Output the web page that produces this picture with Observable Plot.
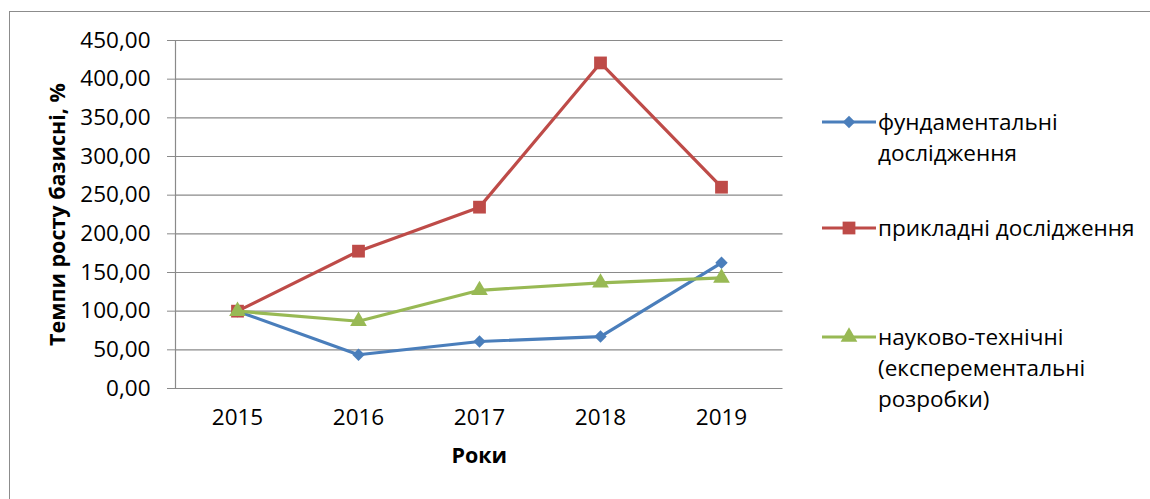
<!DOCTYPE html>
<html><head><meta charset="utf-8">
<script src="https://cdn.jsdelivr.net/npm/d3@7"></script>
<script src="https://cdn.jsdelivr.net/npm/@observablehq/plot@0.6"></script>
<style>
body{margin:0;background:#fff;}
#wrap{position:relative;width:1150px;height:499px;overflow:hidden;}
#border{position:absolute;left:9px;top:11px;width:1300px;height:700px;border-left:1.5px solid #8c8c8c;border-top:1.5px solid #8c8c8c;pointer-events:none;}
.leg{position:absolute;left:822px;font-family:"Open Sans";font-size:22.5px;line-height:31px;color:#000;}
.leg svg{position:absolute;left:0;top:6px;}
.leg .t{position:absolute;left:56px;top:0;white-space:nowrap;}
</style>
</head><body>
<div id="wrap"><div id="border"></div></div>
<script>
const years = ["2015", "2016", "2017", "2018", "2019"];
const fundamental = [100, 43.6, 60.8, 67.2, 162.5];
const applied = [100, 177.6, 234.5, 421, 260.3];
const scitech = [100, 87, 127, 136.7, 143];
const seriesNames = ["фундаментальні дослідження", "прикладні дослідження", "науково-технічні (експерементальні розробки)"];
const legendLines = [["фундаментальні", "дослідження"], ["прикладні дослідження"], ["науково-технічні", "(експерементальні", "розробки)"]];
const seriesColors = ["#4A7EBB", "#BE4B48", "#98B954"];
const seriesSymbols = ["diamond2", "square", "triangle"];
const seriesR = [5.6, 7.2, 6.2];
const yTicks = [0, 50, 100, 150, 200, 250, 300, 350, 400, 450];
const yTitle = "Темпи росту базисні, %";
const xTitle = "Роки";

const allSeries = [fundamental, applied, scitech];
const data = [];
allSeries.forEach((vals, s) => vals.forEach((v, i) => data.push({year: years[i], value: v, series: seriesNames[s]})));

const fmt = d => d3.format(".2f")(d).replace(".", ",");

const marks = [
  Plot.ruleY(yTicks, {stroke: "#8a8a8a", strokeWidth: 1.2}),
  Plot.axisY({ticks: yTicks, tickFormat: fmt, tickSize: 8, tickPadding: 17, stroke: "#8a8a8a", fontSize: 22.5, label: null}),
  Plot.axisX({tickSize: 0, tickPadding: 21, fontSize: 22.5, label: null}),
  Plot.frame({anchor: "left", stroke: "#8a8a8a", strokeWidth: 1.2}),
  Plot.text([yTitle], {frameAnchor: "left", textAnchor: "middle", rotate: -90, dx: -117, fontWeight: "bold", fontSize: 21.5}),
  Plot.text([xTitle], {frameAnchor: "bottom", dy: 74, fontWeight: "bold", fontSize: 21.5})
];
seriesNames.forEach((name, s) => {
  const d = data.filter(r => r.series === name);
  marks.push(Plot.line(d, {x: "year", y: "value", stroke: seriesColors[s], strokeWidth: 3.2}));
  marks.push(Plot.dot(d, {x: "year", y: "value", symbol: seriesSymbols[s], fill: seriesColors[s], r: seriesR[s], stroke: "none"}));
});

const chart = Plot.plot({
  width: 1150, height: 499,
  marginLeft: 175, marginRight: 367.5, marginTop: 40, marginBottom: 111,
  style: {fontFamily: "Open Sans", fontSize: "22.5px", color: "#000", background: "transparent"},
  x: {type: "point", domain: years, padding: 0.5},
  y: {domain: [0, 450]},
  marks
});
chart.style.position = "absolute";
chart.style.left = "0";
chart.style.top = "0";
const wrap = document.getElementById("wrap");
wrap.appendChild(chart);

const legendTops = [106, 212, 321];
legendLines.forEach((lines, s) => {
  const div = document.createElement("div");
  div.className = "leg";
  div.style.top = legendTops[s] + "px";
  const sym = d3.symbol(d3["symbol" + {diamond2: "Diamond2", square: "Square", triangle: "Triangle"}[seriesSymbols[s]]], Math.PI * seriesR[s] * seriesR[s])();
  div.innerHTML = `<svg width="54" height="20"><line x1="0" x2="54" y1="10" y2="10" stroke="${seriesColors[s]}" stroke-width="3.2"/><path d="${sym}" transform="translate(27,10)" fill="${seriesColors[s]}"/></svg><div class="t">${lines.join("<br>")}</div>`;
  wrap.appendChild(div);
});
</script>
</body></html>
